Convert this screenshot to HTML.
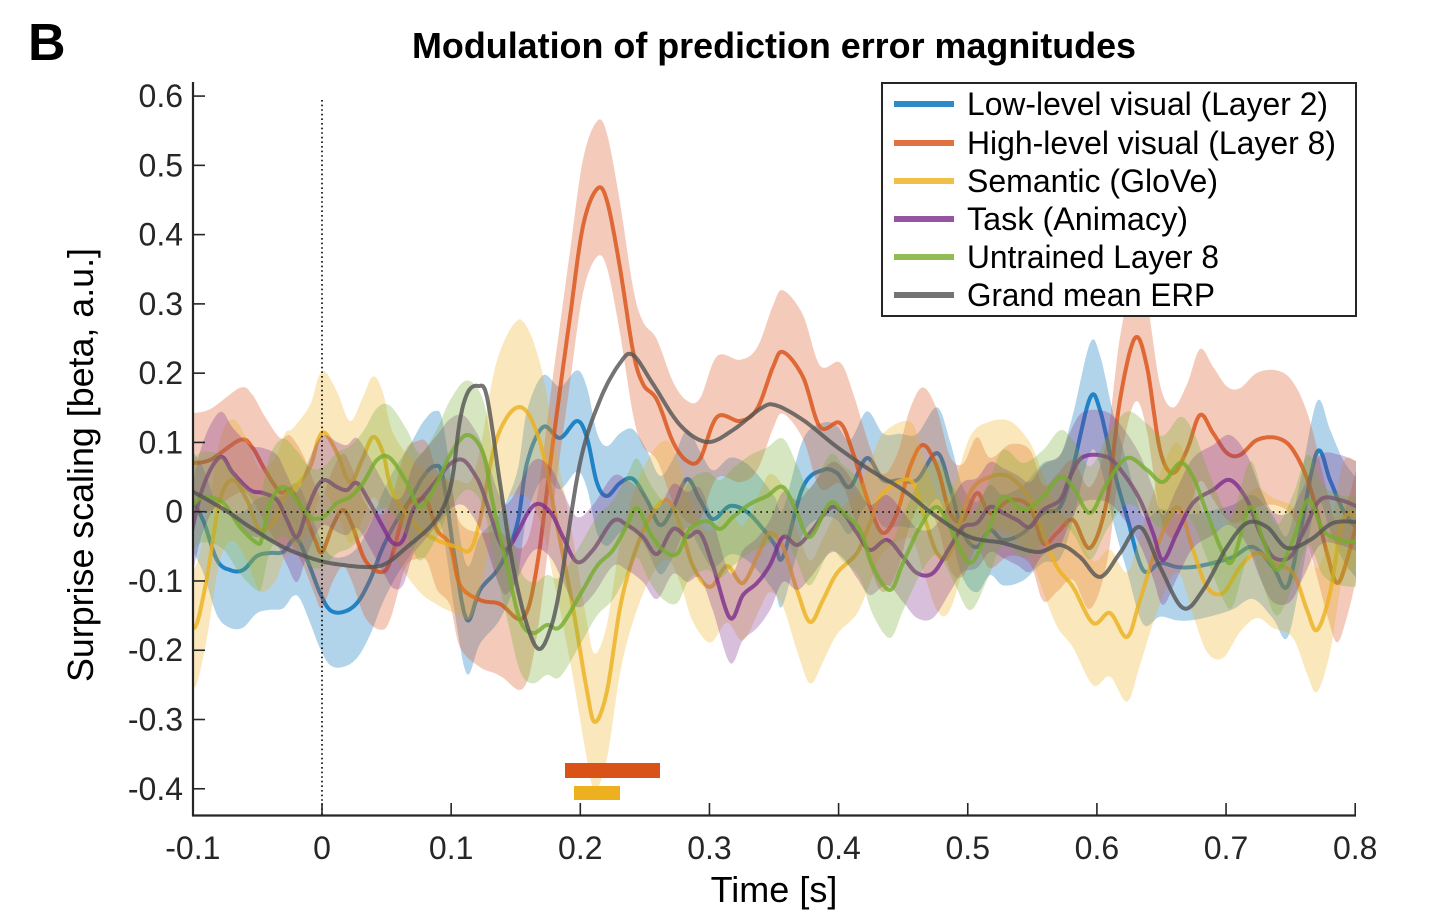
<!DOCTYPE html>
<html>
<head>
<meta charset="utf-8">
<style>
  html,body{margin:0;padding:0;background:#fff;}
  svg{display:block;}
  text{font-family:"Liberation Sans",Arial,sans-serif;}
</style>
</head>
<body>
<svg id="s" width="1444" height="916" viewBox="0 0 1444 916" xmlns="http://www.w3.org/2000/svg">
  <rect x="0" y="0" width="1444" height="916" fill="#fff"/>
  <defs>
    <clipPath id="ax"><rect x="193" y="78" width="1163" height="737"/></clipPath>
  </defs>
  <g id="data" clip-path="url(#ax)"></g>

  <!-- dotted reference lines -->
  <line x1="322" y1="100" x2="322" y2="815" stroke="#000" stroke-width="1.6" stroke-dasharray="1.6 3"/>
  <line x1="193" y1="512" x2="1355" y2="512" stroke="#000" stroke-width="1.6" stroke-dasharray="1.6 4.5"/>

  <!-- significance bars -->
  <rect x="565" y="763" width="95" height="15" fill="#D95319"/>
  <rect x="574" y="786" width="46" height="14" fill="#EDB120"/>

  <!-- axes -->
  <g stroke="#262626" stroke-width="2.2" fill="none">
    <line x1="193" y1="82" x2="193" y2="816"/>
    <line x1="192" y1="815.5" x2="1356" y2="815.5"/>
  </g>
  <g id="ticks" stroke="#262626" stroke-width="1.6"></g>
  <g id="labels" fill="#262626" font-size="32"></g>

  <!-- title, panel letter, axis labels -->
  <text x="28" y="60" font-size="52" font-weight="bold" fill="#000">B</text>
  <text x="774" y="58" font-size="36" font-weight="bold" fill="#000" text-anchor="middle" textLength="724" lengthAdjust="spacingAndGlyphs">Modulation of prediction error magnitudes</text>
  <text x="774" y="902" font-size="36" fill="#000" text-anchor="middle">Time [s]</text>
  <text transform="translate(93,465) rotate(-90)" font-size="36" fill="#000" text-anchor="middle" textLength="434" lengthAdjust="spacingAndGlyphs">Surprise scaling [beta, a.u.]</text>

  <!-- legend -->
  <rect x="882" y="83" width="474" height="233" fill="#fff" stroke="#262626" stroke-width="2"/>
  <g stroke-width="6" stroke-opacity="0.82">
    <line x1="894" y1="104" x2="954" y2="104" stroke="#0072BD"/>
    <line x1="894" y1="143" x2="954" y2="143" stroke="#D95319"/>
    <line x1="894" y1="181" x2="954" y2="181" stroke="#EDB120"/>
    <line x1="894" y1="219" x2="954" y2="219" stroke="#7E2F8E"/>
    <line x1="894" y1="257" x2="954" y2="257" stroke="#77AC30"/>
    <line x1="894" y1="295" x2="954" y2="295" stroke="#555555"/>
  </g>
  <g font-size="32" fill="#000">
    <text x="967" y="115" textLength="361" lengthAdjust="spacingAndGlyphs">Low-level visual (Layer 2)</text>
    <text x="967" y="154" textLength="369" lengthAdjust="spacingAndGlyphs">High-level visual (Layer 8)</text>
    <text x="967" y="192" textLength="251" lengthAdjust="spacingAndGlyphs">Semantic (GloVe)</text>
    <text x="967" y="230" textLength="221" lengthAdjust="spacingAndGlyphs">Task (Animacy)</text>
    <text x="967" y="268" textLength="252" lengthAdjust="spacingAndGlyphs">Untrained Layer 8</text>
    <text x="967" y="306" textLength="248" lengthAdjust="spacingAndGlyphs">Grand mean ERP</text>
  </g>
</svg>
<script>
(function(){
  var NS="http://www.w3.org/2000/svg";
  var X=function(t){return 322+t*1291.5;};
  var Y=function(v){return 511.7-v*692.7;};

  // ticks and labels
  var tg=document.getElementById('ticks'), lg=document.getElementById('labels');
  function el(tag,attrs,parent,txt){var e=document.createElementNS(NS,tag);for(var k in attrs)e.setAttribute(k,attrs[k]);if(txt!==undefined)e.textContent=txt;parent.appendChild(e);return e;}
  var yl=['0.6','0.5','0.4','0.3','0.2','0.1','0','-0.1','-0.2','-0.3','-0.4'];
  for(var i=0;i<yl.length;i++){
    var v=0.6-i*0.1, y=Y(v);
    el('line',{x1:193,y1:y,x2:205,y2:y},tg);
    el('text',{x:183,y:y+11,'text-anchor':'end'},lg,yl[i]);
  }
  var xl=['-0.1','0','0.1','0.2','0.3','0.4','0.5','0.6','0.7','0.8'];
  for(var j=0;j<xl.length;j++){
    var t=-0.1+j*0.1, x=X(t);
    el('line',{x1:x,y1:815,x2:x,y2:803},tg);
    el('text',{x:x,y:859,'text-anchor':'middle'},lg,xl[j]);
  }

  function cr(pts,n){
    var out=[];
    for(var i=0;i<pts.length-1;i++){
      var p0=pts[Math.max(i-1,0)],p1=pts[i],p2=pts[i+1],p3=pts[Math.min(i+2,pts.length-1)];
      for(var k=0;k<n;k++){
        var t=k/n,t2=t*t,t3=t2*t;
        var f=function(a,b,c,d){return 0.5*((2*b)+(-a+c)*t+(2*a-5*b+4*c-d)*t2+(-a+3*b-3*c+d)*t3);};
        out.push([f(p0[0],p1[0],p2[0],p3[0]),f(p0[1],p1[1],p2[1],p3[1])]);
      }
    }
    out.push(pts[pts.length-1]);
    return out;
  }
  function interp(arr,x){
    if(x<=arr[0][0])return arr[0][1];
    for(var i=0;i<arr.length-1;i++){
      if(x<=arr[i+1][0]){var a=arr[i],b=arr[i+1];return a[1]+(b[1]-a[1])*(x-a[0])/(b[0]-a[0]);}
    }
    return arr[arr.length-1][1];
  }

  var series=[
    {c:'#0072BD',hw:[[193,50],[230,58],[330,55],[440,55],[600,50],[1000,45],[1090,55],[1355,50]],
     p:[[190,497],[203,520],[217,560],[230,570],[243,570],[257,556],[270,553],[283,552],[293,540],[300,543],[310,567],[320,593],[330,610],[343,612],[357,603],[370,580],[383,547],[397,520],[410,500],[423,477],[435,466],[443,478],[455,560],[467,620],[480,590],[500,566],[517,525],[527,463],[543,427],[560,438],[577,421],[587,438],[597,483],[607,496],[620,483],[633,479],[647,500],[660,525],[673,508],[687,479],[700,500],[713,519],[730,506],[747,512],[763,529],[775,545],[783,557],[803,487],[823,470],[837,473],[850,487],[867,458],[883,480],[900,480],[917,480],[937,453],[950,487],[963,533],[977,547],[990,530],[1003,540],[1023,533],[1043,513],[1060,507],[1073,467],[1090,398],[1100,410],[1113,467],[1127,517],[1143,570],[1160,563],[1177,567],[1193,567],[1213,563],[1233,557],[1253,547],[1273,567],[1287,587],[1300,533],[1317,452],[1330,480],[1343,510],[1358,530]]},
    {c:'#D95319',hw:[[193,50],[300,55],[450,60],[500,72],[530,70],[560,65],[600,68],[660,60],[800,62],[1000,55],[1150,65],[1300,68],[1355,55]],
     p:[[190,463],[210,460],[240,440],[252,447],[265,470],[280,492],[290,490],[303,510],[315,540],[322,552],[333,525],[343,510],[352,525],[365,560],[380,572],[390,562],[405,510],[417,500],[427,502],[437,530],[450,545],[460,585],[480,600],[500,604],[523,618],[537,566],[553,442],[570,317],[583,226],[597,189],[607,201],[620,268],[633,351],[643,384],[657,400],[673,442],[687,461],[700,459],[717,417],[740,421],[757,409],[773,367],[783,352],[803,377],[820,427],[840,423],[853,453],[870,507],[883,533],[897,513],[910,467],[923,445],[937,467],[950,513],[963,520],[977,493],[990,513],[1010,500],[1030,507],[1043,543],[1057,533],[1073,520],[1090,548],[1107,500],[1120,400],[1135,338],[1147,367],[1160,450],[1173,473],[1187,450],[1200,415],[1213,433],[1227,453],[1240,455],[1257,440],[1277,438],[1293,450],[1310,487],[1327,553],[1337,583],[1347,560],[1358,517]]},
    {c:'#EDB120',hw:[[193,60],[300,62],[400,60],[480,70],[520,88],[560,70],[600,68],[700,55],[820,62],[1000,55],[1130,65],[1300,65],[1355,55]],
     p:[[190,628],[197,623],[207,577],[220,500],[233,480],[247,500],[260,530],[275,520],[285,495],[293,490],[310,467],[318,440],[325,433],[337,453],[350,482],[362,460],[373,437],[383,453],[393,493],[417,527],[437,540],[457,547],[470,550],[480,520],[497,438],[520,407],[540,442],[557,525],[573,608],[587,691],[595,722],[607,691],[620,608],[633,558],[650,517],[667,500],[680,525],[693,566],[710,587],[727,566],[743,583],[760,550],[770,533],[783,547],[797,590],[810,622],[823,600],[837,573],[857,553],[870,523],[883,493],[910,480],[923,513],[937,553],[950,553],[970,493],[990,477],[1010,477],[1030,500],[1043,533],[1057,567],[1073,587],[1093,623],[1110,613],[1127,637],[1140,600],[1157,547],[1177,507],[1193,550],[1207,587],[1223,593],[1240,567],[1257,553],[1273,563],[1293,573],[1307,610],[1317,630],[1330,593],[1343,520],[1358,517]]},
    {c:'#7E2F8E',hw:[[193,45],[1355,45]],
     p:[[190,540],[203,487],[220,457],[233,473],[250,490],[263,493],[277,500],[287,520],[297,537],[307,510],[317,487],[325,480],[337,487],[347,490],[357,483],[370,503],[383,527],[393,543],[403,540],[413,510],[423,497],[437,480],[450,464],[463,460],[475,475],[483,492],[500,542],[510,546],[533,506],[550,512],[563,537],[577,562],[593,550],[613,521],[627,525],[643,537],[657,554],[673,529],[687,537],[700,533],[713,566],[730,618],[743,595],[757,583],[770,565],[783,537],[797,545],[810,533],[830,508],[843,513],[857,533],[870,550],[887,540],[903,557],[917,573],[933,573],[950,547],[963,527],[977,523],[990,507],[1003,513],[1017,520],[1030,527],[1043,510],[1060,500],[1070,477],[1083,457],[1107,457],[1123,473],[1140,500],[1153,533],[1163,560],[1177,533],[1193,503],[1213,490],[1230,480],[1247,500],[1260,533],[1273,557],[1290,557],[1303,533],[1320,500],[1340,500],[1358,507]]},
    {c:'#77AC30',hw:[[193,45],[460,55],[540,50],[1355,45]],
     p:[[190,508],[203,497],[223,503],[240,527],[257,543],[262,538],[270,503],[283,487],[297,500],[310,517],[323,517],[337,503],[350,497],[363,483],[377,460],[390,458],[407,483],[420,507],[437,483],[450,455],[467,435],[483,453],[493,504],[507,566],[520,620],[533,633],[547,625],[560,627],[580,595],[597,566],[613,550],[627,525],[637,508],[650,533],[663,550],[677,554],[690,529],[707,521],[720,529],[733,517],[750,504],[767,496],[783,487],[797,513],[810,537],[830,503],[843,513],[860,530],[873,567],[890,590],[903,563],[920,527],[937,507],[953,533],[970,563],[987,533],[1003,497],[1023,510],[1043,497],[1060,477],[1073,487],[1090,513],[1107,483],[1127,458],[1147,470],[1163,482],[1180,463],[1193,477],[1207,513],[1223,553],[1233,560],[1250,507],[1263,540],[1277,570],[1293,540],[1308,500],[1323,530],[1340,540],[1358,542]]},
    {c:'#555555',hw:null,
     p:[[190,490],[225,510],[250,527],[283,547],[317,560],[343,565],[370,567],[387,563],[407,547],[430,527],[443,508],[452,480],[460,420],[468,392],[478,386],[487,397],[500,483],[513,566],[527,625],[539,649],[550,630],[560,587],[580,463],[600,400],[620,363],[633,355],[653,384],[680,425],[707,442],[733,430],[760,409],[775,405],[803,420],[837,447],[870,470],[903,490],[937,517],[970,537],[1003,543],[1037,552],[1060,545],[1080,557],[1100,577],[1120,553],[1140,527],[1160,567],[1183,608],[1203,590],[1227,547],[1247,523],[1267,527],[1287,548],[1310,540],[1333,523],[1358,522]]}
  ];

  var g=document.getElementById('data');
  series.forEach(function(s){
    var d=cr(s.p,10);
    if(s.hw){
      var up=[],lo=[];
      d.forEach(function(q){var h=interp(s.hw,q[0]);up.push([q[0],q[1]-h]);lo.push([q[0],q[1]+h]);});
      var pts=up.concat(lo.reverse());
      var ps='M'+pts.map(function(q){return q[0].toFixed(1)+' '+q[1].toFixed(1);}).join(' L')+' Z';
      el('path',{d:ps,fill:s.c,'fill-opacity':0.3,stroke:'none'},g);
    }
    var ls='M'+d.map(function(q){return q[0].toFixed(1)+' '+q[1].toFixed(1);}).join(' L');
    el('path',{d:ls,fill:'none',stroke:s.c,'stroke-width':4,'stroke-opacity':0.82,'stroke-linejoin':'round','stroke-linecap':'round'},g);
  });
})();
</script>
</body>
</html>
